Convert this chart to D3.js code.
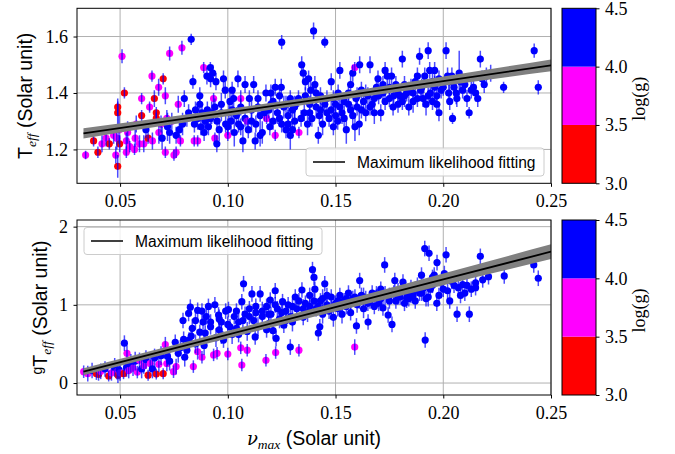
<!DOCTYPE html>
<html><head><meta charset="utf-8">
<script src="https://cdn.jsdelivr.net/npm/d3@7"></script>
<style>body{margin:0;background:#fff} svg{display:block}</style>
</head><body>
<svg id="c" width="675" height="454"></svg>
<script>
// ---------- DATA ----------
const xTicks = [0.05, 0.10, 0.15, 0.20, 0.25];
const topYTicks = [1.2, 1.4, 1.6];
const botYTicks = [0, 1, 2];
const cbBounds = [3.0, 3.5, 4.0, 4.5];
const cbColors = ["#ff0000", "#ff00ff", "#0000ff"];
const legendLabel = "Maximum likelihood fitting";

// Top panel: nu_max vs Teff
const topNu = [
0.034,0.0377,0.0397,0.0416,0.0435,0.045,0.047,0.048,0.0485,0.0489,0.0489,0.0489,0.0498,0.0495,
0.0509,0.052,0.0529,0.0529,0.0535,0.0545,0.0567,0.057,0.0575,0.059,
0.060,0.060,0.061,0.062,0.063,0.0637,0.0648,0.065,0.0659,0.0668,0.0668,0.0679,0.068,0.069,0.0695,
0.070,0.071,0.071,0.0717,0.072,0.073,0.073,0.074,0.075,0.076,0.076,0.077,0.0775,0.078,0.0787,0.079,
0.0798,0.081,0.0818,0.083,0.0838,0.0844,0.0845,0.085,0.086,0.086,0.087,0.087,0.0875,0.088,0.0888,0.089,0.0895,
0.0903,0.0905,0.091,0.0919,0.092,0.0925,0.093,0.0934,0.094,0.094,0.0945,0.0949,0.095,0.096,0.097,0.098,0.0988,0.099,
0.100,0.100,0.1005,0.101,0.1015,0.1027,0.103,0.104,0.1047,0.105,0.106,0.106,0.107,0.108,0.108,0.109,0.1095,
0.110,0.111,0.112,0.1127,0.113,0.114,0.115,0.116,0.1177,0.118,0.119,0.1195,
0.120,0.121,0.122,0.122,0.123,0.124,0.1248,0.125,0.125,0.126,0.127,0.128,0.129,0.129,
0.130,0.131,0.1328,0.133,0.1343,0.135,0.1355,0.136,0.137,0.1375,0.138,0.1385,0.139,0.1398,
0.1404,0.141,0.142,0.1425,0.143,0.144,0.145,0.145,0.146,0.147,0.148,0.148,0.149,
0.150,0.151,0.1512,0.152,0.153,0.154,0.155,0.156,0.157,0.158,0.1589,0.159,0.1595,
0.160,0.161,0.1612,0.162,0.163,0.164,0.165,0.166,0.167,0.168,0.169,0.1697,
0.171,0.172,0.173,0.174,0.175,0.176,0.1767,0.178,0.179,
0.180,0.181,0.181,0.182,0.183,0.184,0.185,0.186,0.187,0.188,0.189,0.1895,
0.1906,0.191,0.1914,0.192,0.193,0.1937,0.194,0.195,0.196,0.196,0.197,0.198,0.198,0.199,
0.2013,0.202,0.2025,0.203,0.204,0.2043,0.205,0.2063,0.2074,0.208,0.209,
0.211,0.212,0.213,0.215,0.2172,0.218,0.219,
0.220,0.222,0.228,0.2422,0.2441,
0.092,0.097,0.102,0.106,0.111,0.114,0.117,0.121,0.124,0.127,0.131,0.134,0.136,0.138,0.141,0.143,0.146,0.149,
0.152,0.154,0.156,0.158,0.160,0.162,0.164,0.166,0.168,0.170,0.173,0.175,0.177,0.179,0.182,0.184,0.186,0.188,
0.190,0.193,0.195,0.197,0.200,0.203,0.206,0.210,0.214,0.216,0.115,0.130,0.128,0.150,0.102,0.120,0.157,0.172
];
const topTeff = [
1.18,1.23,1.19,1.22,1.24,1.22,1.25,1.18,1.24,1.35,1.33,1.14,1.22,1.27,
1.53,1.40,1.19,1.23,1.26,1.21,1.20,1.24,1.29,1.22,
1.38,1.32,1.22,1.27,1.24,1.35,1.46,1.23,1.38,1.33,1.31,1.42,1.26,1.29,1.24,
1.45,1.39,1.19,1.31,1.28,1.54,1.26,1.30,1.18,1.19,1.25,1.36,1.27,1.23,1.56,1.29,
1.38,1.31,1.33,1.59,1.44,1.23,1.29,1.34,1.23,1.31,1.39,1.36,1.28,1.33,1.49,1.26,1.30,
1.46,1.34,1.28,1.49,1.45,1.33,1.47,1.38,1.35,1.24,1.44,1.22,1.30,1.27,1.33,1.45,1.41,1.29,
1.25,1.28,1.33,1.37,1.30,1.38,1.26,1.32,1.45,1.29,1.38,1.35,1.23,1.43,1.31,1.30,1.27,
1.38,1.34,1.43,1.23,1.29,1.38,1.32,1.26,1.40,1.31,1.34,1.28,
1.36,1.30,1.42,1.25,1.33,1.39,1.42,1.58,1.29,1.35,1.27,1.32,1.38,1.25,
1.34,1.30,1.38,1.26,1.50,1.47,1.33,1.44,1.29,1.45,1.36,1.41,1.31,1.62,
1.43,1.35,1.25,1.32,1.39,1.29,1.58,1.36,1.38,1.31,1.44,1.34,1.28,
1.36,1.30,1.40,1.48,1.33,1.37,1.27,1.40,1.34,1.47,1.49,1.28,1.38,
1.35,1.29,1.50,1.41,1.37,1.33,1.39,1.50,1.36,1.38,1.42,1.45,
1.33,1.40,1.48,1.46,1.38,1.46,1.35,1.43,1.40,
1.39,1.52,1.37,1.43,1.40,1.35,1.42,1.37,1.44,1.46,1.53,1.41,
1.38,1.43,1.46,1.36,1.55,1.48,1.40,1.37,1.48,1.42,1.39,1.45,1.33,1.41,
1.55,1.46,1.40,1.37,1.46,1.31,1.42,1.38,1.47,1.44,1.41,
1.38,1.33,1.41,1.40,1.52,1.45,1.43,
1.46,1.47,1.42,1.55,1.42,
1.31,1.36,1.34,1.28,1.30,1.35,1.33,1.37,1.31,1.36,1.35,1.31,1.39,1.33,1.40,1.34,1.33,1.38,
1.35,1.31,1.36,1.32,1.39,1.34,1.40,1.35,1.33,1.39,1.37,1.42,1.39,1.36,1.39,1.41,1.40,1.38,
1.42,1.39,1.44,1.36,1.42,1.44,1.40,1.43,1.42,1.38,1.25,1.27,1.29,1.32,1.41,1.40,1.43,1.43
];
const topErr = [
.015,.02,.02,.03,.03,.02,.03,.03,.04,.03,.04,.04,.03,.05,
.025,.02,.02,.03,.04,.02,.02,.03,.03,.03,
.02,.02,.03,.03,.02,.02,.02,.03,.03,.02,.02,.03,.04,.03,.04,
.02,.03,.02,.03,.05,.025,.04,.03,.02,.02,.03,.03,.03,.02,.025,.04,
.03,.03,.03,.02,.025,.02,.03,.03,.02,.04,.03,.03,.03,.03,.02,.03,.04,
.03,.03,.03,.02,.03,.04,.03,.02,.03,.02,.03,.03,.03,.04,.03,.03,.03,.03,
.02,.03,.04,.03,.04,.03,.05,.03,.03,.03,.03,.03,.04,.03,.03,.02,.03,
.03,.04,.03,.03,.03,.03,.03,.04,.03,.02,.03,.03,
.03,.03,.03,.02,.04,.03,.03,.025,.03,.04,.03,.03,.03,.05,
.03,.04,.03,.02,.03,.03,.03,.03,.04,.03,.03,.03,.03,.03,
.03,.04,.03,.03,.03,.04,.02,.03,.03,.03,.03,.04,.03,
.03,.03,.03,.03,.04,.03,.05,.03,.03,.03,.02,.05,.03,
.03,.04,.03,.03,.03,.03,.03,.03,.03,.03,.03,.03,
.03,.03,.03,.03,.03,.03,.03,.03,.03,
.03,.03,.03,.03,.03,.03,.03,.04,.03,.03,.03,.03,
.03,.03,.03,.04,.03,.03,.03,.03,.03,.04,.03,.03,.03,.03,
.03,.03,.03,.03,.03,.02,.03,.03,.08,.03,.03,
.03,.02,.03,.03,.03,.03,.03,
.03,.03,.02,.025,.025,
.03,.04,.03,.03,.04,.03,.03,.04,.03,.03,.04,.03,.03,.03,.04,.03,.03,.03,
.04,.03,.03,.04,.03,.03,.03,.03,.04,.03,.03,.03,.03,.03,.04,.03,.03,.03,
.03,.03,.04,.03,.03,.03,.04,.03,.03,.03,.04,.03,.05,.03,.03,.03,.03,.03
];
const topLogg = [
3.8,3.3,3.4,3.7,3.8,3.3,3.9,3.7,3.6,3.2,3.3,3.4,3.3,3.8,
3.8,3.3,3.7,3.9,3.8,3.6,3.7,3.8,3.9,3.8,
3.7,3.3,3.8,4.1,3.4,3.8,3.7,3.9,3.3,3.2,3.3,3.8,3.9,3.8,4.1,
3.3,3.8,3.7,3.9,4.2,3.8,4.1,3.9,3.7,3.8,4.2,3.8,4.1,3.7,3.8,4.1,
4.2,3.9,4.1,4.2,4.2,3.8,4.1,4.2,3.8,4.1,4.2,4.1,4.2,4.1,3.8,4.2,4.1,
4.2,4.1,4.2,4.2,4.1,4.2,4.2,3.8,4.2,3.8,4.1,4.2,4.1,4.2,4.1,4.2,4.2,4.1,
3.8,4.2,4.1,4.2,4.1,4.2,4.2,4.1,4.2,4.2,3.8,4.1,4.2,4.2,4.1,3.8,4.2,
4.2,4.1,4.2,4.2,4.1,4.2,4.1,4.2,4.2,3.8,4.1,4.2,
4.2,4.1,4.2,3.8,4.1,4.2,4.2,4.2,4.1,4.2,4.2,4.1,4.2,4.2,
4.1,4.2,4.2,3.8,4.2,4.2,4.1,4.2,4.1,4.2,4.2,4.1,4.2,4.2,
4.2,4.1,4.2,4.2,4.1,4.2,4.2,4.1,4.2,4.2,4.1,4.2,4.2,
4.2,4.1,4.2,4.2,4.1,4.2,4.2,4.1,4.2,4.2,3.8,4.2,4.1,
4.2,4.1,4.2,4.2,4.1,4.2,4.2,4.2,4.1,4.2,4.2,4.1,
4.2,4.2,4.2,4.1,4.2,4.2,4.1,4.2,4.2,
4.1,4.2,4.2,4.1,4.2,4.2,4.1,4.2,4.2,4.1,4.2,4.2,
4.2,4.1,4.2,4.2,4.2,4.1,4.2,4.2,4.1,4.2,4.2,4.2,4.1,4.2,
4.2,4.2,4.1,4.2,4.2,4.2,4.1,4.2,4.2,4.1,4.2,
4.2,4.2,4.1,4.2,4.2,4.2,4.1,
4.2,4.2,4.2,4.2,4.2,
4.2,4.1,4.2,4.2,4.1,4.2,4.1,4.2,4.2,4.1,4.2,4.2,4.1,4.2,4.2,4.1,4.2,4.2,
4.1,4.2,4.2,4.1,4.2,4.2,4.1,4.2,4.2,4.1,4.2,4.2,4.1,4.2,4.2,4.1,4.2,4.2,
4.1,4.2,4.2,4.1,4.2,4.2,4.1,4.2,4.2,4.1,4.2,4.2,4.1,4.2,4.2,4.1,4.2,4.2
];

// Bottom panel: nu_max vs g*Teff
const botNu = [
0.0331,0.035,0.037,0.039,0.040,0.041,0.043,0.0447,0.046,0.0475,0.0486,0.049,0.0495,
0.050,0.0516,0.052,0.0532,0.053,0.054,0.055,0.056,0.057,0.058,0.059,
0.060,0.061,0.062,0.063,0.064,0.065,0.066,0.0668,0.068,0.069,
0.070,0.071,0.0717,0.072,0.073,0.0748,0.0756,0.076,0.077,0.078,0.0792,0.0795,
0.080,0.081,0.0818,0.0826,0.083,0.084,0.0835,0.085,0.086,0.086,0.087,0.088,0.0885,0.0895,0.089,
0.090,0.091,0.092,0.0934,0.094,0.0945,0.095,0.0957,0.096,0.097,0.098,0.099,
0.100,0.1003,0.101,0.102,0.103,0.104,0.105,0.1065,0.106,0.1065,0.1073,0.108,0.109,0.109,
0.110,0.1112,0.112,0.1127,0.113,0.114,0.115,0.116,0.1177,0.118,0.119,0.1197,
0.120,0.121,0.122,0.1222,0.1224,0.123,0.124,0.1254,0.126,0.127,0.128,0.129,0.1292,
0.130,0.1313,0.132,0.133,0.1344,0.135,0.136,0.137,0.138,0.1393,0.140,
0.1404,0.141,0.142,0.1427,0.143,0.144,0.145,0.146,0.147,0.148,0.149,
0.150,0.151,0.152,0.153,0.154,0.155,0.156,0.157,0.158,0.1589,0.1597,
0.160,0.1612,0.162,0.163,0.164,0.1651,0.166,0.167,0.168,0.169,
0.170,0.171,0.172,0.1728,0.1744,0.175,0.1762,0.1775,0.178,0.179,
0.180,0.1813,0.182,0.183,0.184,0.185,0.186,0.187,0.188,0.1899,
0.190,0.1914,0.1916,0.192,0.1934,0.194,0.195,0.1958,0.1971,0.197,0.198,0.199,
0.2005,0.2013,0.202,0.203,0.204,0.2064,0.207,0.208,0.209,
0.211,0.2121,0.213,0.215,0.2172,0.2183,
0.221,0.2283,0.242,0.2441,
0.092,0.096,0.100,0.104,0.107,0.110,0.113,0.116,0.119,0.122,0.125,0.127,0.130,0.133,0.135,0.138,0.140,0.142,
0.144,0.146,0.148,0.151,0.153,0.155,0.157,0.159,0.161,0.163,0.165,0.167,0.169,0.171,0.173,0.175,0.177,0.179,
0.181,0.183,0.185,0.187,0.189,0.191,0.193,0.195,0.200,0.205,0.210,0.215,0.097,0.105,0.118,0.085,0.082,0.088
];
const botGTeff = [
0.145,0.12,0.16,0.12,0.11,0.15,0.18,0.09,0.13,0.20,0.145,0.10,0.17,
0.13,0.12,0.51,0.38,0.20,0.16,0.25,0.19,0.28,0.14,0.29,
0.18,0.22,0.30,0.10,0.25,0.18,0.32,0.115,0.24,0.35,
0.12,0.49,0.25,0.34,0.28,0.145,0.52,0.21,0.38,0.45,0.80,0.56,
0.33,0.42,0.89,0.97,0.60,0.21,0.70,0.50,0.93,0.40,0.65,0.33,0.78,0.64,0.48,
0.85,0.98,0.72,0.36,1.00,0.58,0.38,0.87,0.68,0.78,0.55,0.92,
0.37,0.94,0.72,0.62,0.85,0.70,0.78,1.04,0.45,0.23,1.27,0.88,0.42,0.66,
0.95,1.14,0.80,0.59,0.90,0.72,1.14,0.85,0.29,0.98,0.76,1.06,
0.88,0.67,1.18,0.39,0.57,0.95,0.82,1.04,0.74,0.92,1.00,0.46,0.85,
0.78,1.10,0.95,0.42,1.19,0.84,1.02,0.90,1.12,1.45,1.35,
1.20,0.95,0.64,0.72,1.05,0.88,1.27,1.00,0.92,1.10,0.84,
1.02,0.95,1.12,0.88,1.05,0.98,1.15,0.90,1.08,0.46,0.73,
1.00,1.31,1.12,0.95,1.08,0.78,1.05,1.15,0.98,1.10,
1.02,1.20,0.96,1.51,0.87,1.12,0.75,1.31,1.05,1.18,
1.10,1.29,1.02,1.15,1.08,1.22,1.12,1.05,1.25,1.38,
1.15,1.72,0.55,1.08,1.66,1.20,1.35,1.38,1.54,1.02,1.12,1.28,
1.40,1.64,1.18,1.05,1.30,0.88,1.22,1.12,1.26,
1.25,0.88,1.20,1.28,1.62,1.32,
1.36,1.37,1.51,1.34,
0.78,0.82,0.75,0.92,0.80,0.85,0.98,0.92,0.88,1.00,0.90,0.80,0.98,1.05,0.95,0.98,1.05,0.98,
1.08,1.12,0.96,1.05,1.00,1.08,1.02,1.10,1.05,1.10,1.02,1.08,1.14,1.08,1.12,1.05,1.15,1.10,
1.18,1.08,1.12,1.20,1.15,1.22,1.10,1.25,1.20,1.25,1.15,1.22,0.62,0.62,0.68,0.80,0.55,0.92
];
const botErr = [
.08,.1,.1,.08,.08,.1,.1,.07,.1,.12,.1,.1,.12,
.1,.07,.1,.1,.12,.1,.12,.1,.12,.08,.1,
.12,.1,.12,.07,.1,.12,.12,.07,.1,.12,
.07,.1,.1,.12,.12,.08,.1,.1,.12,.1,.1,.1,
.12,.1,.1,.1,.1,.08,.12,.12,.1,.1,.1,.08,.1,.1,.12,
.1,.1,.1,.08,.1,.12,.08,.1,.1,.12,.1,.1,
.08,.1,.1,.12,.1,.1,.12,.1,.08,.08,.1,.1,.08,.12,
.1,.1,.1,.1,.1,.12,.1,.1,.08,.1,.1,.1,
.1,.1,.1,.08,.1,.1,.12,.1,.1,.1,.1,.1,.1,
.12,.1,.1,.08,.1,.1,.1,.12,.1,.1,.1,
.1,.1,.1,.1,.1,.12,.1,.1,.1,.1,.12,
.1,.1,.1,.12,.1,.1,.1,.1,.1,.1,.1,
.1,.1,.1,.12,.1,.1,.1,.1,.1,.1,
.1,.1,.1,.1,.1,.1,.1,.1,.1,.1,
.1,.1,.1,.1,.1,.1,.1,.1,.1,.1,
.1,.1,.1,.1,.1,.1,.1,.1,.1,.1,.1,.1,
.1,.1,.1,.1,.1,.1,.1,.1,.1,
.1,.1,.1,.1,.1,.1,
.1,.1,.1,.1,
.1,.12,.1,.1,.12,.1,.1,.12,.1,.1,.12,.1,.1,.1,.12,.1,.1,.1,
.12,.1,.1,.1,.12,.1,.1,.1,.1,.12,.1,.1,.1,.1,.12,.1,.1,.1,
.1,.12,.1,.1,.1,.1,.12,.1,.1,.1,.1,.1,.12,.1,.1,.12,.1,.1
];
const botLogg = [
3.8,3.7,4.1,3.3,3.4,3.8,4.1,3.3,3.8,4.1,3.7,3.3,4.2,
3.8,3.3,4.2,3.8,4.1,3.7,4.1,3.8,4.2,3.7,3.8,
4.1,3.8,4.2,3.3,3.9,4.1,4.2,3.3,3.8,4.1,
3.3,3.8,3.7,4.2,4.1,3.8,4.2,3.8,4.1,4.2,4.2,4.2,
4.1,4.2,4.2,4.2,4.1,3.8,4.2,4.2,4.1,3.8,4.2,3.8,4.2,4.1,4.2,
4.2,4.1,4.2,3.8,4.2,4.1,3.8,4.2,4.2,4.1,4.2,4.2,
3.8,4.2,4.1,4.2,4.2,4.1,4.2,4.2,3.8,3.7,4.2,4.1,3.8,4.2,
4.2,4.2,4.1,4.2,4.2,4.1,4.2,4.2,3.8,4.1,4.2,4.2,
4.2,4.1,4.2,3.8,4.2,4.1,4.2,4.2,4.1,4.2,4.2,4.2,4.1,
4.2,4.2,4.1,3.8,4.2,4.2,4.1,4.2,4.2,4.2,4.2,
4.1,4.2,4.2,4.1,4.2,4.2,4.2,4.1,4.2,4.2,4.1,
4.2,4.2,4.1,4.2,4.2,4.1,4.2,4.2,4.2,3.8,4.2,
4.1,4.2,4.2,4.1,4.2,4.2,4.2,4.1,4.2,4.2,
4.1,4.2,4.2,4.2,4.1,4.2,4.2,4.2,4.1,4.2,
4.2,4.2,4.1,4.2,4.2,4.1,4.2,4.2,4.2,4.1,
4.2,4.2,4.2,4.1,4.2,4.2,4.1,4.2,4.2,4.2,4.1,4.2,
4.2,4.2,4.1,4.2,4.2,4.2,4.1,4.2,4.2,
4.2,4.2,4.1,4.2,4.2,4.2,
4.1,4.2,4.2,4.2,
4.2,4.1,4.2,4.2,4.1,4.2,4.1,4.2,4.2,4.1,4.2,4.2,4.1,4.2,4.2,4.1,4.2,4.2,
4.1,4.2,4.2,4.1,4.2,4.2,4.1,4.2,4.2,4.1,4.2,4.2,4.1,4.2,4.2,4.1,4.2,4.2,
4.1,4.2,4.2,4.1,4.2,4.2,4.1,4.2,4.2,4.1,4.2,4.2,4.1,4.2,4.2,4.1,4.2,4.2
];

// Maximum-likelihood fits (line + uncertainty band)
const fitNu = [0.033, 0.08, 0.14, 0.20, 0.25];
const topFit = [1.257, 1.309, 1.375, 1.442, 1.498];
const topFitHalf = [0.018, 0.014, 0.012, 0.016, 0.021];
const botFit = [0.145, 0.478, 0.902, 1.326, 1.680];
const botFitHalf = [0.045, 0.045, 0.055, 0.075, 0.095];

// ---------- DRAWING ----------
const svg = d3.select("#c");
svg.append("rect").attr("width", 675).attr("height", 454).attr("fill", "#fff");

const L = 77, R = 551;
const x = d3.scaleLinear().domain([0.03, 0.25]).range([L, R]);
const color = d3.scaleThreshold().domain([3.5, 4.0]).range(cbColors);
const SERIF = "'Liberation Serif', 'DejaVu Serif', serif";
const SANS = "'Liberation Sans', 'DejaVu Sans', sans-serif";
let clipN = 0;

function panel(o) {
  const y = d3.scaleLinear().domain(o.yDomain).range([o.bottom, o.top]);
  const g = svg.append("g");
  const cid = "clip" + (clipN++);
  svg.append("clipPath").attr("id", cid).append("rect")
    .attr("x", L).attr("y", o.top).attr("width", R - L).attr("height", o.bottom - o.top);

  // grid
  g.append("g").selectAll("line").data(xTicks).join("line")
    .attr("x1", d => x(d)).attr("x2", d => x(d)).attr("y1", o.top).attr("y2", o.bottom)
    .attr("stroke", "#b0b0b0").attr("stroke-width", 1);
  g.append("g").selectAll("line").data(o.yTicks).join("line")
    .attr("x1", L).attr("x2", R).attr("y1", d => y(d)).attr("y2", d => y(d))
    .attr("stroke", "#b0b0b0").attr("stroke-width", 1);

  const idx = d3.range(o.nu.length);
  const pg = g.append("g").attr("clip-path", `url(#${cid})`);
  // markers
  pg.append("g").selectAll("circle").data(idx).join("circle")
    .attr("cx", i => x(o.nu[i])).attr("cy", i => y(o.val[i])).attr("r", 3.6)
    .attr("fill", i => color(o.logg[i]));
  // error bars
  pg.append("g").selectAll("line").data(idx).join("line")
    .attr("x1", i => x(o.nu[i])).attr("x2", i => x(o.nu[i]))
    .attr("y1", i => y(o.val[i] - o.err[i])).attr("y2", i => y(o.val[i] + o.err[i]))
    .attr("stroke", "#0000ff").attr("stroke-opacity", 0.7).attr("stroke-width", 1.5);

  // fit band and line
  const fi = d3.range(fitNu.length);
  pg.append("path").datum(fi)
    .attr("d", d3.area().curve(d3.curveMonotoneX)
      .x(i => x(fitNu[i])).y0(i => y(o.fit[i] - o.half[i])).y1(i => y(o.fit[i] + o.half[i])))
    .attr("fill", "#808080");
  pg.append("path").datum(fi)
    .attr("d", d3.line().x(i => x(fitNu[i])).y(i => y(o.fit[i])))
    .attr("fill", "none").attr("stroke", "#000").attr("stroke-width", 1.8);

  // axes
  const ax = g.append("g").attr("transform", `translate(0,${o.bottom})`)
    .call(d3.axisBottom(x).tickValues(xTicks).tickFormat(d3.format(".2f")).tickSize(3.5).tickPadding(7.5));
  const ay = g.append("g").attr("transform", `translate(${L},0)`)
    .call(d3.axisLeft(y).tickValues(o.yTicks).tickFormat(d3.format(o.yFmt)).tickSize(3.5).tickPadding(5.5));
  [ax, ay].forEach(a => {
    a.select(".domain").remove();
    a.selectAll("line").attr("stroke", "#000");
    a.selectAll("text").attr("font-family", SERIF).attr("font-size", 18).attr("fill", "#000");
  });

  // frame
  g.append("rect").attr("x", L).attr("y", o.top).attr("width", R - L).attr("height", o.bottom - o.top)
    .attr("fill", "none").attr("stroke", "#000").attr("stroke-width", 1);

  // legend
  const lg = g.append("g");
  lg.append("rect").attr("x", o.leg[0]).attr("y", o.leg[1]).attr("width", 238).attr("height", o.leg[2])
    .attr("rx", 3).attr("fill", "#fff").attr("fill-opacity", 0.8).attr("stroke", "#cccccc");
  const ly = o.leg[1] + o.leg[2] / 2;
  lg.append("line").attr("x1", o.leg[0] + 7).attr("x2", o.leg[0] + 39).attr("y1", ly).attr("y2", ly)
    .attr("stroke", "#000").attr("stroke-width", 1.5);
  lg.append("text").attr("x", o.leg[0] + 51).attr("y", ly + 5.5)
    .attr("font-family", SANS).attr("font-size", 15.6).text(legendLabel);

  // y label
  const yl = g.append("text")
    .attr("transform", `translate(${o.ylabX},${(o.top + o.bottom) / 2}) rotate(-90)`)
    .attr("text-anchor", "middle").attr("font-family", SANS).attr("font-size", 19.5);
  if (o.gPrefix) {
    yl.append("tspan").attr("font-size", 14).attr("dy", -5).text("g");
    yl.append("tspan").attr("dy", 5).text("T");
  } else {
    yl.append("tspan").text("T");
  }
  yl.append("tspan").attr("font-family", SERIF).attr("font-style", "italic").attr("font-size", 13.5).attr("dy", 4).text("eff");
  yl.append("tspan").attr("dy", -4).text(" (Solar unit)");

  // colorbar
  const cx0 = 562, cx1 = 596;
  const cy = d3.scaleLinear().domain([3.0, 4.5]).range([o.bottom, o.top]);
  const cb = svg.append("g");
  cb.selectAll("rect.seg").data(d3.range(cbColors.length)).join("rect")
    .attr("x", cx0).attr("width", cx1 - cx0)
    .attr("y", i => cy(cbBounds[i + 1])).attr("height", i => cy(cbBounds[i]) - cy(cbBounds[i + 1]))
    .attr("fill", i => cbColors[i]);
  cb.append("rect").attr("x", cx0).attr("y", o.top).attr("width", cx1 - cx0).attr("height", o.bottom - o.top)
    .attr("fill", "none").attr("stroke", "#000").attr("stroke-width", 1);
  const ca = cb.append("g").attr("transform", `translate(${cx1},0)`)
    .call(d3.axisRight(cy).tickValues(cbBounds).tickFormat(d3.format(".1f")).tickSize(3.5).tickPadding(5.5));
  ca.select(".domain").remove();
  ca.selectAll("line").attr("stroke", "#000");
  ca.selectAll("text").attr("font-family", SERIF).attr("font-size", 18).attr("fill", "#000");
  cb.append("text")
    .attr("transform", `translate(645,${(o.top + o.bottom) / 2 + 3}) rotate(-90)`)
    .attr("text-anchor", "middle").attr("font-family", SERIF).attr("font-size", 18).text("log(g)");
}

panel({
  top: 8.3, bottom: 183.3, yDomain: [1.08, 1.70], yTicks: topYTicks, yFmt: ".1f",
  nu: topNu, val: topTeff, err: topErr, logg: topLogg,
  fit: topFit, half: topFitHalf, leg: [306, 148, 28], ylabX: 32, gPrefix: false
});
panel({
  top: 220, bottom: 395, yDomain: [-0.153, 2.085], yTicks: botYTicks, yFmt: "d",
  nu: botNu, val: botGTeff, err: botErr, logg: botLogg,
  fit: botFit, half: botFitHalf, leg: [84, 227.5, 27], ylabX: 47, gPrefix: true
});

// x label
const xl = svg.append("text").attr("x", 314).attr("y", 444.5).attr("text-anchor", "middle")
  .attr("font-family", SANS).attr("font-size", 19.5);
xl.append("tspan").attr("font-family", "'DejaVu Serif', serif").attr("font-style", "italic").attr("font-size", 18).text("ν");
xl.append("tspan").attr("font-family", SERIF).attr("font-style", "italic").attr("font-size", 13.5).attr("dy", 4).text("max");
xl.append("tspan").attr("dy", -4).text(" (Solar unit)");
</script>
</body></html>
